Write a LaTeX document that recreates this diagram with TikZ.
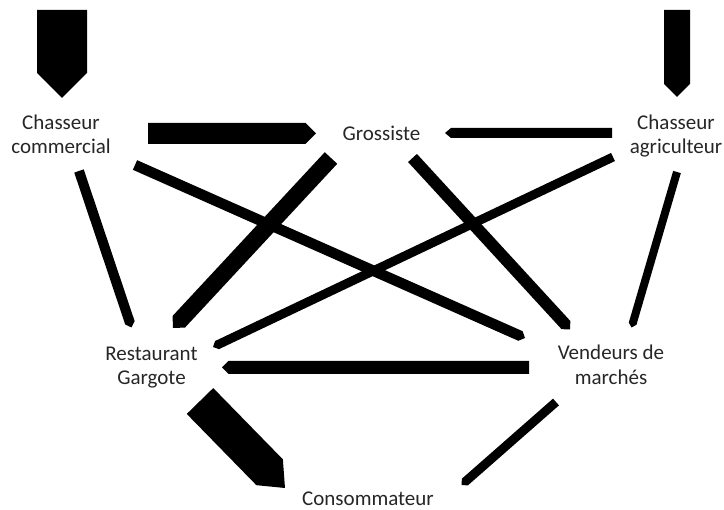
\documentclass[tikz,border=0pt]{standalone}
\usepackage{fontspec}
\setmainfont{Carlito}
\usetikzlibrary{calc}
\newcommand\blockarr[4]{% #1 tail, #2 tip, #3 half width, #4 tip length
  \path ($(#2)!#4!(#1)$) coordinate (bS);
  \fill[black] ($(#1)!#3!90:(#2)$) -- ($(bS)!#3!-90:(#1)$) -- (#2)
     -- ($(bS)!#3!90:(#1)$) -- ($(#1)!#3!-90:(#2)$) -- cycle;
}
\begin{document}
\begin{tikzpicture}[x=1pt,y=-1pt,
  lbl/.style={font=\fontsize{21}{24.5}\selectfont, align=center, inner sep=0pt, anchor=base, text=black!85}]
\useasboundingbox (0,0) rectangle (724,510);
% labels (anchor = baseline of last line)
\node[lbl] (CC) at (61,154) {Chasseur\\commercial};
\node[lbl] (G) at (381.5,141) {Grossiste};
\node[lbl] (CA) at (676,154) {Chasseur\\agriculteur};
\node[lbl] (R) at (151.5,385) {Restaurant\\Gargote};
\node[lbl] (V) at (611,384.5) {Vendeurs de\\marchés};
\node[lbl] (Co) at (368,506) {Consommateur};
% arrow end points
\coordinate (t1) at (62,10);    \coordinate (p1) at (62,98);
\coordinate (t2) at (677,10);   \coordinate (p2) at (677,97);
\coordinate (t3) at (148,133.5);\coordinate (p3) at (316,133.5);
\coordinate (t4) at (612,133);  \coordinate (p4) at (445,133);
\coordinate (t5) at (79,171);   \coordinate (p5) at (131.5,327.5);
\coordinate (t6) at (135,165);  \coordinate (p6) at (525,338);
\coordinate (t7) at (331,158);  \coordinate (p7) at (173,328);
\coordinate (t8) at (412.5,158);\coordinate (p8) at (570,329.5);
\coordinate (t9) at (613,157);  \coordinate (p9) at (213,347);
\coordinate (t10) at (677,172); \coordinate (p10) at (631.5,327.5);
\coordinate (t11) at (529,367.5);\coordinate (p11) at (222,367.5);
\coordinate (t12) at (200,401); \coordinate (p12) at (285,488);
\coordinate (t13) at (556,402); \coordinate (p13) at (461.5,485);
% arrows
\blockarr{t1}{p1}{25pt}{25pt}
\blockarr{t2}{p2}{13pt}{13pt}
\blockarr{t3}{p3}{10.5pt}{10.5pt}
\blockarr{t4}{p4}{5pt}{6pt}
\blockarr{t5}{p5}{5pt}{5pt}
\blockarr{t6}{p6}{5.25pt}{5pt}
\blockarr{t7}{p7}{8.5pt}{8.5pt}
\blockarr{t8}{p8}{6pt}{6pt}
\blockarr{t9}{p9}{4.5pt}{4.5pt}
\blockarr{t10}{p10}{4pt}{4pt}
\blockarr{t11}{p11}{6.5pt}{6.5pt}
\blockarr{t12}{p12}{18.5pt}{22pt}
\blockarr{t13}{p13}{4.5pt}{4.5pt}
\end{tikzpicture}
\end{document}
